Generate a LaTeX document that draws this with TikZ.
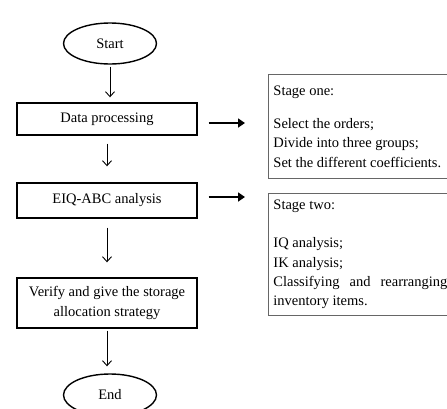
\documentclass[tikz,border=0pt]{standalone}
\usepackage{fontspec}
\setmainfont{Liberation Serif}
\usetikzlibrary{shapes.geometric,arrows.meta}

\tikzset{every picture/.style={line width=0.75pt}}
\tikzset{
  stepbox/.style={draw, line width=1.4pt, minimum width=180pt, inner sep=0.75pt, align=center},
  termnode/.style={draw, ellipse, line width=1.4pt, minimum width=93pt, minimum height=41pt, inner sep=0.75pt},
  notebox/.style={draw=black!60, line width=0.9pt, anchor=north west, text width=174pt, inner xsep=5pt, align=justify},
  flow/.style={-{Straight Barb[length=5pt,width=9pt]}, line width=0.9pt},
  fatarrow/.style={-{Triangle[length=7pt,width=9pt]}, line width=2.6pt}
}

\begin{document}
\begin{tikzpicture}[x=1pt,y=1pt,yscale=-1,xscale=1,font=\fontsize{14.5}{19.3}\selectfont]
\useasboundingbox (0,0) rectangle (447,408);

% Terminal nodes
\node [termnode] (start) at (110,43.5) {Start};
\node [termnode, minimum height=42pt] (stop) at (110,395) {End};

% Process boxes
\node [stepbox, minimum height=32pt] (dp) at (107,119) {Data processing};
\node [stepbox, minimum height=35pt] (eiq) at (107,200.5) {EIQ-ABC analysis};
\node [stepbox, minimum height=50pt] (ver) at (107,303) {Verify and give the storage\\allocation strategy};

% Stage boxes
\node [notebox, minimum height=104pt] (s1) at (268,74) {Stage one:\\[14pt]Select the orders;\\Divide into three groups;\\Set the different coefficients.};
\node [notebox, minimum height=122pt] (s2) at (268,193) {Stage two:\\[19pt]IQ analysis;\\IK analysis;\\Classifying and rearranging\linebreak inventory items.};

% Flow arrows
\draw [flow, shorten <=2pt, shorten >=5pt] (start) -- (start |- dp.north);
\draw [flow, shorten <=8pt, shorten >=16pt] (dp) -- (eiq);
\draw [flow, shorten <=9pt, shorten >=15pt] (eiq) -- (ver);
\draw [flow, shorten <=2pt, shorten >=7pt] (ver) -- (ver |- stop.north);

% Stage arrows
\draw [fatarrow, shorten <=11pt, shorten >=23pt] ([yshift=4pt]dp.east) -- ([yshift=4pt]dp.east -| s1.west);
\draw [fatarrow, shorten <=11pt, shorten >=23pt] ([yshift=-3.5pt]eiq.east) -- ([yshift=-3.5pt]eiq.east -| s2.west);

\end{tikzpicture}
\end{document}
